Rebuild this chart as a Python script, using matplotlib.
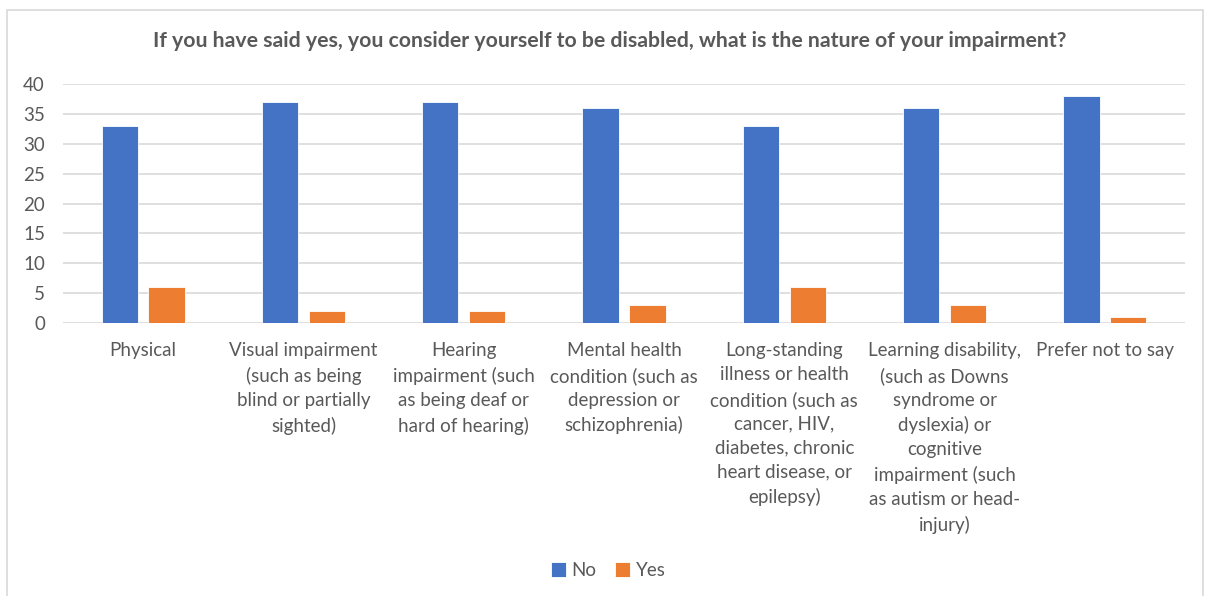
import numpy as np
import matplotlib.pyplot as plt
from matplotlib.patches import Rectangle

categories = [
    "Physical",
    "Visual impairment\n(such as being\nblind or partially\nsighted)",
    "Hearing\nimpairment (such\nas being deaf or\nhard of hearing)",
    "Mental health\ncondition (such as\ndepression or\nschizophrenia)",
    "Long-standing\nillness or health\ncondition (such as\ncancer, HIV,\ndiabetes, chronic\nheart disease, or\nepilepsy)",
    "Learning disability,\n(such as Downs\nsyndrome or\ndyslexia) or\ncognitive\nimpairment (such\nas autism or head-\ninjury)",
    "Prefer not to say",
]
no_values = [33, 37, 37, 36, 33, 36, 38]
yes_values = [6, 2, 2, 3, 6, 3, 1]

plt.rcParams['font.family'] = ['Lato', 'DejaVu Sans']
grey = '#595959'

fig = plt.figure(figsize=(12.05, 5.96), dpi=100)
fig.patches.append(Rectangle((0.006, -0.01), 0.992, 0.993, transform=fig.transFigure,
                             fill=False, edgecolor='#D9D9D9', linewidth=1.2))
ax = fig.add_axes([0.0523, 0.458, 0.9311, 0.401])

x = np.arange(len(categories))
w = 0.226
ax.bar(x - 0.146, no_values, w, color='#4472C4', edgecolor='white', linewidth=0.6, label='No', zorder=3)
ax.bar(x + 0.146, yes_values, w, color='#ED7D31', edgecolor='white', linewidth=0.6, label='Yes', zorder=3)

ax.set_xlim(-0.5, len(categories) - 0.5)
ax.set_ylim(0, 40)
ax.set_yticks(range(0, 41, 5))
ax.yaxis.grid(True, color='#D9D9D9', linewidth=1.2, zorder=0)
for s in ax.spines.values():
    s.set_visible(False)
ax.tick_params(axis='both', length=0, colors=grey, labelsize=13.5)
ax.tick_params(axis='y', pad=13)
ax.set_xticks(x)
ax.set_xticklabels(categories, color=grey, fontsize=13.5, linespacing=1.5, va='top')
ax.tick_params(axis='x', pad=14)

fig.suptitle("If you have said yes, you consider yourself to be disabled, what is the nature of your impairment?",
             x=0.506, y=0.948, fontsize=15.3, fontweight='bold', color=grey)

fig.legend(loc='center', bbox_to_anchor=(0.505, 0.043), ncol=2, frameon=False,
           fontsize=13.5, handlelength=0.8, handleheight=0.8, handletextpad=0.3,
           columnspacing=1.0, labelcolor=grey)

fig.savefig('out.png', dpi=100)
